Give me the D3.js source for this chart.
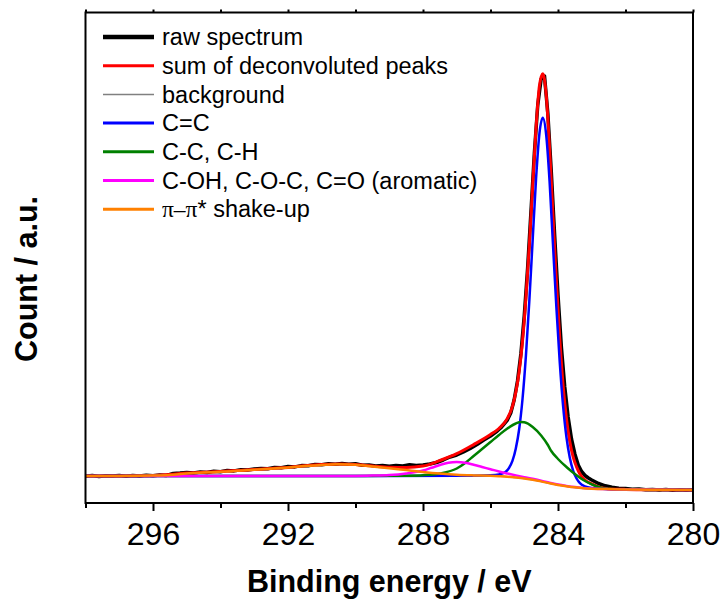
<!DOCTYPE html>
<html>
<head>
<meta charset="utf-8">
<script src="https://cdn.jsdelivr.net/npm/d3@7"></script>
<style>
  body { margin: 0; background: #fff; }
  text { font-family: "Liberation Sans", Arial, sans-serif; fill: #000; }
</style>
</head>
<body>
<script>
// C 1s spectrum, binding energy (eV) vs counts
var rawSpectrum = [
  [298.0,2680],[297.8,2740],[297.6,2650],[297.4,2720],[297.2,2690],[297.0,2750],[296.8,2680],[296.6,2740],
  [296.4,2700],[296.2,2770],[296.0,2720],[295.8,2790],[295.6,2760],[295.4,2950],[295.2,2990],[295.0,3060],
  [294.8,3010],[294.6,3100],[294.4,3050],[294.2,3180],[294.0,3130],[293.8,3260],[293.6,3210],[293.4,3330],
  [293.2,3290],[293.0,3400],[292.8,3450],[292.6,3420],[292.4,3560],[292.2,3530],[292.0,3640],[291.8,3610],
  [291.6,3740],[291.4,3720],[291.2,3860],[291.0,3830],[290.8,3920],[290.6,3880],[290.4,3960],[290.2,3870],
  [290.0,3930],[289.8,3780],[289.6,3800],[289.4,3710],[289.2,3740],[289.0,3680],[288.8,3760],[288.6,3700],
  [288.4,3820],[288.2,3750],[288.0,3800],[287.8,3900],[287.6,4050],[287.4,4300],[287.2,4600],[287.0,4800],
  [286.8,5100],[286.6,5450],[286.4,5850],[286.2,6300],[286.0,6700],[285.9,6950],[285.8,7200],[285.7,7500],
  [285.6,7900],[285.5,8300],[285.4,9000],[285.3,10300],[285.2,12200],[285.1,14900],[285.0,18700],[284.9,23500],
  [284.8,29200],[284.7,35000],[284.6,39800],[284.5,42400],[284.4,42700],[284.3,38900],[284.2,33200],[284.1,26800],
  [284.0,20800],[283.9,15600],[283.8,11600],[283.7,8600],[283.6,6400],[283.5,4900],[283.4,3800],[283.3,3150],
  [283.2,2750],[283.1,2500],[283.0,2300],[282.8,1950],[282.6,1720],[282.4,1580],[282.2,1480],[282.0,1450],
  [281.8,1380],[281.6,1400],[281.4,1330],[281.2,1360],[281.0,1300],[280.8,1340],[280.6,1280],[280.4,1320],
  [280.2,1270],[280.0,1300]
];

var sumPeaks = [
  [298,2700],[297.5,2700],[297,2710],[296.5,2730],[296,2760],[295.5,2850],[295,3000],[294.5,3080],[294,3150],
  [293.5,3250],[293,3350],[292.5,3460],[292,3560],[291.5,3720],[291,3840],[290.5,3900],[290,3850],[289.5,3700],
  [289,3565],[288.5,3545],[288,3690],[287.5,4250],[287,4930],[286.5,5840],[286,6845],[285.75,7450],[285.5,8460],
  [285.35,9660],[285.25,11080],[285.15,13180],[285.05,16250],[284.95,20510],[284.85,25750],[284.75,31720],
  [284.65,37530],[284.55,41720],[284.45,42930],[284.35,40810],[284.25,35480],[284.15,28860],[284.05,22300],
  [283.95,16530],[283.85,11800],[283.75,8430],[283.65,6130],[283.55,4580],[283.45,3610],[283.35,2890],
  [283.2,2300],[283,1910],[282.75,1560],[282.5,1430],[282,1360],[281,1320],[280,1300]
];

var background = [
  [298,2690],[294,2700],[290,2710],[288,2720],[286.5,2725],[286,2715],[285.75,2680],[285.5,2630],[285.25,2540],
  [285,2440],[284.75,2320],[284.5,2160],[284.25,1970],[284,1800],[283.75,1670],[283.5,1560],[283.25,1480],
  [283,1430],[282.5,1380],[282,1350],[281,1320],[280,1300]
];

var peakCC = [
  [298,2690],[294,2700],[290,2710],[287,2720],[286,2785],[285.75,2860],[285.55,3120],[285.45,3520],[285.35,4210],
  [285.25,5450],[285.15,7400],[285.05,10450],[284.95,14770],[284.85,20180],[284.75,26340],[284.65,32440],
  [284.55,36950],[284.45,38520],[284.35,36810],[284.25,32180],[284.15,25920],[284.05,19670],[283.95,14150],
  [283.85,9730],[283.75,6580],[283.65,4530],[283.55,3220],[283.45,2450],[283.35,1980],[283.2,1650],[283,1490],
  [282.5,1380],[282,1350],[281,1320],[280,1300]
];

var peakCH = [
  [298,2690],[294,2700],[290,2710],[289,2715],[288.5,2730],[288,2780],[287.5,2950],[287,3450],[286.75,4000],
  [286.5,4700],[286.25,5400],[286,6100],[285.75,6800],[285.5,7450],[285.25,7950],[285.1,8100],[285,8070],
  [284.75,7600],[284.5,6750],[284.3,5800],[284.2,5200],[284,4400],[283.75,3600],[283.5,2900],[283.25,2300],
  [283,1870],[282.75,1560],[282.5,1430],[282.25,1380],[282,1355],[281,1320],[280,1300]
];

var peakCO = [
  [298,2690],[294,2700],[290,2710],[289.5,2740],[289,2800],[288.5,2960],[288,3250],[287.75,3520],[287.5,3800],
  [287.25,4020],[287,4100],[286.75,4030],[286.5,3830],[286.25,3600],[286,3380],[285.75,3150],[285.5,2950],
  [285.25,2760],[285,2580],[284.75,2420],[284.5,2240],[284.25,2030],[284,1850],[283.75,1710],[283.5,1590],
  [283.25,1500],[283,1445],[282.5,1385],[282,1352],[281,1320],[280,1300]
];

var shakeUp = [
  [298,2690],[297,2700],[296,2740],[295.5,2800],[295,2950],[294.5,3040],[294,3120],[293.5,3220],[293,3320],
  [292.5,3430],[292,3540],[291.5,3690],[291,3810],[290.5,3870],[290,3820],[289.5,3660],[289,3480],[288.5,3290],
  [288,3100],[287.5,2940],[287,2820],[286.5,2760],[286,2725],[285.75,2685],[285.5,2635],[285.25,2545],
  [285,2445],[284.75,2325],[284.5,2165],[284.25,1975],[284,1805],[283.75,1675],[283.5,1565],[283.25,1485],
  [283,1435],[282.5,1385],[282,1355],[281,1325],[280,1305]
];

var legendLabels = ["raw spectrum", "sum of deconvoluted peaks", "background", "C=C",
  "C-C, C-H", "C-OH, C-O-C, C=O (aromatic)", "\u03c0\u2013\u03c0* shake-up"];
var majorTicks = [296, 292, 288, 284, 280];
var minorTicks = [298, 294, 290, 286, 282];

var svgWidth = 722;
var svgHeight = 601;
var margin = { top: 12.5, right: 29, bottom: 98, left: 85.5 };
var chartWidth = svgWidth - margin.left - margin.right;
var chartHeight = svgHeight - margin.top - margin.bottom;

var svg = d3.select("body").append("svg")
  .attr("width", svgWidth)
  .attr("height", svgHeight);

var chartGroup = svg.append("g")
  .attr("transform", `translate(${margin.left}, ${margin.top})`);

var xScale = d3.scaleLinear().domain([298, 280]).range([0, chartWidth]);
var yScale = d3.scaleLinear().domain([0, 49050]).range([chartHeight, 0]);

// series: data, colour, width (plot), width (legend)
var series = [
  { data: rawSpectrum, color: "#000000", w: 3.5, lw: 4.5, curve: d3.curveLinear },
  { data: sumPeaks, color: "#ff0000", w: 3, lw: 3, curve: d3.curveMonotoneX },
  { data: background, color: "#808080", w: 1.5, lw: 1.5, curve: d3.curveMonotoneX },
  { data: peakCC, color: "#0000ff", w: 2.5, lw: 3, curve: d3.curveMonotoneX },
  { data: peakCH, color: "#008000", w: 2.5, lw: 3, curve: d3.curveMonotoneX },
  { data: peakCO, color: "#ff00ff", w: 2.5, lw: 3, curve: d3.curveMonotoneX },
  { data: shakeUp, color: "#ff8000", w: 2.5, lw: 3, curve: d3.curveMonotoneX }
];

svg.append("clipPath").attr("id", "plotclip")
  .append("rect").attr("width", chartWidth).attr("height", chartHeight);

var lines = chartGroup.append("g").attr("clip-path", "url(#plotclip)");

series.forEach(function(s) {
  var line = d3.line()
    .x(d => xScale(d[0]))
    .y(d => yScale(d[1]))
    .curve(s.curve);
  lines.append("path")
    .datum(s.data)
    .attr("fill", "none")
    .attr("stroke", s.color)
    .attr("stroke-width", s.w)
    .attr("stroke-linejoin", "round")
    .attr("d", line);
});

// axes
var xMajor = d3.axisBottom(xScale).tickValues(majorTicks).tickSize(8).tickPadding(11)
  .tickFormat(d3.format("d"));
var xMinor = d3.axisBottom(xScale).tickValues(minorTicks).tickSize(5).tickFormat("");
var xTop = d3.axisTop(xScale).tickValues(majorTicks.concat(minorTicks)).tickSize(3).tickFormat("");

var gMajor = chartGroup.append("g").attr("transform", `translate(0, ${chartHeight})`).call(xMajor);
var gMinor = chartGroup.append("g").attr("transform", `translate(0, ${chartHeight})`).call(xMinor);
var gTop = chartGroup.append("g").call(xTop);

[gMajor, gMinor, gTop].forEach(function(g) {
  g.select(".domain").remove();
  g.selectAll("line").attr("stroke", "#000").attr("stroke-width", 2);
});
gMajor.selectAll("text")
  .style("font-family", '"Liberation Sans", Arial, sans-serif')
  .style("font-size", "32px")
  .attr("fill", "#000");

chartGroup.append("rect")
  .attr("width", chartWidth)
  .attr("height", chartHeight)
  .attr("fill", "none")
  .attr("stroke", "#000")
  .attr("stroke-width", 2);

// legend
var legend = chartGroup.append("g").attr("transform", "translate(17.5, 24.5)");
legendLabels.forEach(function(label, i) {
  var row = legend.append("g").attr("transform", `translate(0, ${i * 28.7})`);
  row.append("line")
    .attr("x1", 0).attr("x2", 51)
    .attr("stroke", series[i].color)
    .attr("stroke-width", series[i].lw);
  var t = row.append("text")
    .attr("x", 59)
    .attr("dy", "0.35em")
    .style("font-size", "23.5px");
  if (i === 6) {
    t.append("tspan").style("font-family", '"Liberation Serif", "Times New Roman", serif').text("\u03c0\u2013\u03c0");
    t.append("tspan").text("* shake-up");
  } else {
    t.text(label);
  }
});

// axis titles
svg.append("text")
  .attr("transform", "rotate(-90)")
  .attr("x", -279)
  .attr("y", 37)
  .attr("text-anchor", "middle")
  .style("font-size", "30.5px")
  .style("font-weight", "bold")
  .text("Count / a.u.");

svg.append("text")
  .attr("x", margin.left + chartWidth / 2)
  .attr("y", 592)
  .attr("text-anchor", "middle")
  .style("font-size", "30.5px")
  .style("font-weight", "bold")
  .text("Binding energy / eV");
</script>
</body>
</html>
